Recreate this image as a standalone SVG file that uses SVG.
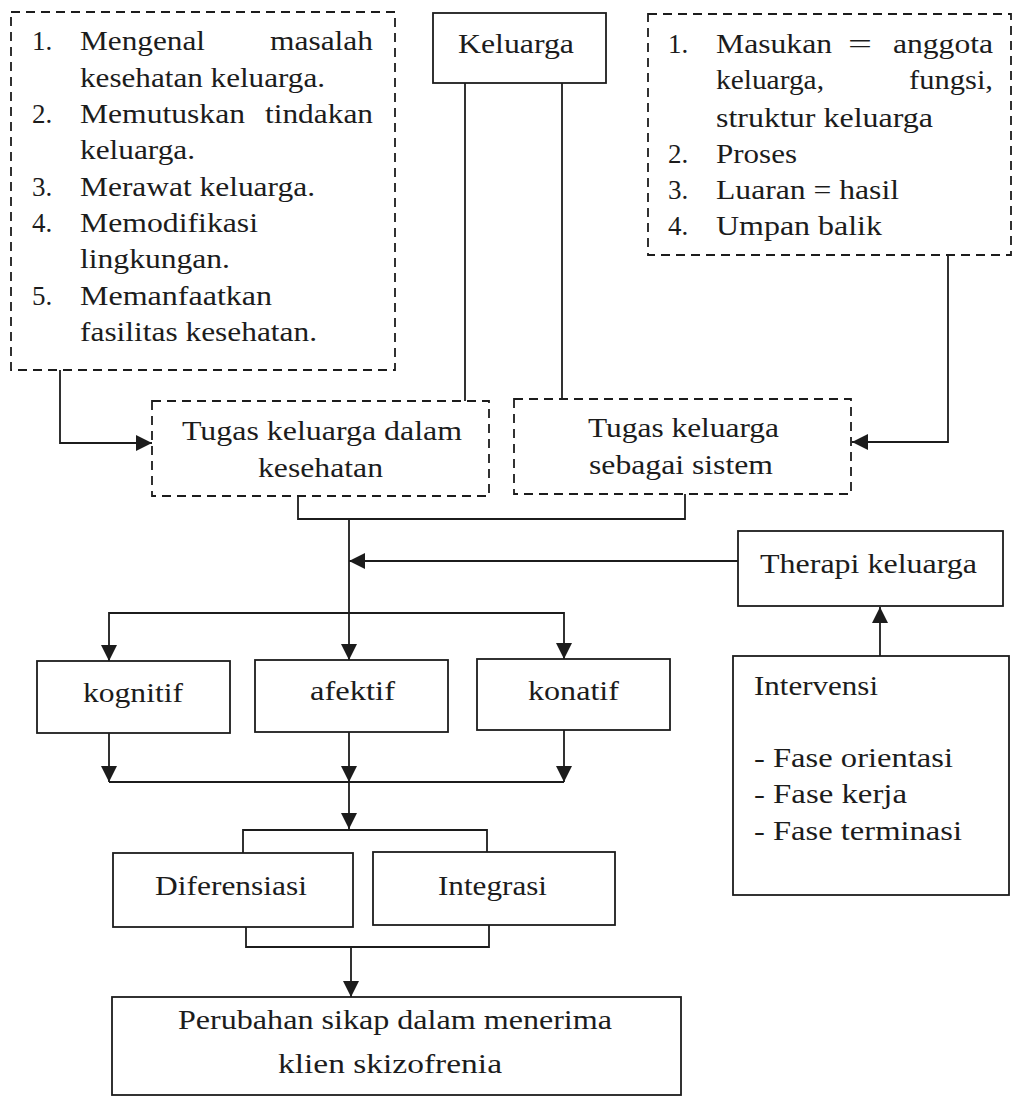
<svg xmlns="http://www.w3.org/2000/svg" width="1014" height="1097" viewBox="0 0 1014 1097">
<style>
  text { font-family: "Times New Roman", Times, "Liberation Serif", "Nimbus Roman", "Nimbus Roman No9 L", Tinos, FreeSerif, serif; font-size: 27px; fill: #1c1c1c; }
  .box { fill: #fff; stroke: #1c1c1c; stroke-width: 1.8; }
  .dbox { fill: #fff; stroke: #1c1c1c; stroke-width: 1.8; stroke-dasharray: 9 6; }
  .ln { fill: none; stroke: #1c1c1c; stroke-width: 1.8; }
  .arr { fill: none; stroke: #1c1c1c; stroke-width: 1.8; marker-end: url(#ah); }
</style>
<defs>
  <marker id="ah" viewBox="0 0 10 10" refX="10" refY="5" markerWidth="17" markerHeight="16" markerUnits="userSpaceOnUse" orient="auto">
    <path d="M0,0 L10,5 L0,10 z" fill="#1c1c1c"/>
  </marker>
</defs>
<rect width="1014" height="1097" fill="#fff"/>

<g id="connectors">
  <path class="arr" d="M60,370 V443 H152"/>
  <path class="ln" d="M465,83 V401"/>
  <path class="ln" d="M562,83 V399"/>
  <path class="arr" d="M948,255 V442 H852"/>
  <path class="ln" d="M298,496 V519 H685 V494"/>
  <path class="arr" d="M349,519 V660"/>
  <path class="arr" d="M738,561 H349"/>
  <path class="arr" d="M349,613 H109 V661"/>
  <path class="arr" d="M349,613 H564 V659"/>
  <path class="arr" d="M880,656 V607"/>
  <path class="arr" d="M109,733 V782"/>
  <path class="arr" d="M349,732 V782"/>
  <path class="arr" d="M564,730 V782"/>
  <path class="ln" d="M109,782 H564"/>
  <path class="arr" d="M349,782 V829"/>
  <path class="ln" d="M243,853 V830 H487 V852"/>
  <path class="ln" d="M246,927 V947 H489 V925"/>
  <path class="arr" d="M351,947 V997"/>
</g>

<g id="tugas-list">
  <rect class="dbox" x="11" y="12" width="384" height="358"/>
  <text x="32" y="50">1.</text>
  <text x="80" y="50" textLength="125" lengthAdjust="spacingAndGlyphs">Mengenal</text>
  <text x="270" y="50" textLength="103" lengthAdjust="spacingAndGlyphs">masalah</text>
  <text x="80" y="87" textLength="245" lengthAdjust="spacingAndGlyphs">kesehatan keluarga.</text>
  <text x="32" y="123">2.</text>
  <text x="80" y="123" textLength="165" lengthAdjust="spacingAndGlyphs">Memutuskan</text>
  <text x="265" y="123" textLength="108" lengthAdjust="spacingAndGlyphs">tindakan</text>
  <text x="80" y="159" textLength="115" lengthAdjust="spacingAndGlyphs">keluarga.</text>
  <text x="32" y="196">3.</text>
  <text x="80" y="196" textLength="235" lengthAdjust="spacingAndGlyphs">Merawat keluarga.</text>
  <text x="32" y="232">4.</text>
  <text x="80" y="232" textLength="178" lengthAdjust="spacingAndGlyphs">Memodifikasi</text>
  <text x="80" y="268" textLength="150" lengthAdjust="spacingAndGlyphs">lingkungan.</text>
  <text x="32" y="305">5.</text>
  <text x="80" y="305" textLength="192" lengthAdjust="spacingAndGlyphs">Memanfaatkan</text>
  <text x="80" y="341" textLength="237" lengthAdjust="spacingAndGlyphs">fasilitas kesehatan.</text>
</g>

<g id="keluarga">
  <rect class="box" x="433" y="13" width="173" height="70"/>
  <text x="458" y="53" textLength="116" lengthAdjust="spacingAndGlyphs">Keluarga</text>
</g>

<g id="sistem-list">
  <rect class="dbox" x="648" y="14" width="363" height="241"/>
  <text x="668" y="53">1.</text>
  <text x="716" y="53" textLength="116" lengthAdjust="spacingAndGlyphs">Masukan</text>
  <text x="848" y="53" textLength="24" lengthAdjust="spacingAndGlyphs">=</text>
  <text x="893" y="53" textLength="100" lengthAdjust="spacingAndGlyphs">anggota</text>
  <text x="716" y="89" textLength="108" lengthAdjust="spacingAndGlyphs">keluarga,</text>
  <text x="909" y="89" textLength="84" lengthAdjust="spacingAndGlyphs">fungsi,</text>
  <text x="716" y="127" textLength="217" lengthAdjust="spacingAndGlyphs">struktur keluarga</text>
  <text x="668" y="163">2.</text>
  <text x="716" y="163" textLength="81" lengthAdjust="spacingAndGlyphs">Proses</text>
  <text x="668" y="199">3.</text>
  <text x="716" y="199" textLength="183" lengthAdjust="spacingAndGlyphs">Luaran = hasil</text>
  <text x="668" y="235">4.</text>
  <text x="716" y="235" textLength="166" lengthAdjust="spacingAndGlyphs">Umpan balik</text>
</g>

<g id="tugas-kesehatan">
  <rect class="dbox" x="152" y="401" width="337" height="95"/>
  <text x="182" y="440" textLength="280" lengthAdjust="spacingAndGlyphs">Tugas keluarga dalam</text>
  <text x="258" y="477" textLength="125" lengthAdjust="spacingAndGlyphs">kesehatan</text>
</g>

<g id="tugas-sistem">
  <rect class="dbox" x="514" y="399" width="337" height="95"/>
  <text x="588" y="437" textLength="191" lengthAdjust="spacingAndGlyphs">Tugas keluarga</text>
  <text x="589" y="474" textLength="184" lengthAdjust="spacingAndGlyphs">sebagai sistem</text>
</g>

<g id="therapi">
  <rect class="box" x="738" y="531" width="265" height="75"/>
  <text x="760" y="573" textLength="217" lengthAdjust="spacingAndGlyphs">Therapi keluarga</text>
</g>

<g id="kognitif">
  <rect class="box" x="37" y="661" width="193" height="72"/>
  <text x="83" y="702" textLength="100" lengthAdjust="spacingAndGlyphs">kognitif</text>
</g>

<g id="afektif">
  <rect class="box" x="255" y="660" width="193" height="72"/>
  <text x="310" y="700" textLength="85" lengthAdjust="spacingAndGlyphs">afektif</text>
</g>

<g id="konatif">
  <rect class="box" x="477" y="659" width="193" height="71"/>
  <text x="528" y="700" textLength="91" lengthAdjust="spacingAndGlyphs">konatif</text>
</g>

<g id="intervensi">
  <rect class="box" x="733" y="656" width="276" height="239"/>
  <text x="754" y="695" textLength="124" lengthAdjust="spacingAndGlyphs">Intervensi</text>
  <text x="754" y="767" textLength="199" lengthAdjust="spacingAndGlyphs">- Fase orientasi</text>
  <text x="754" y="803" textLength="153" lengthAdjust="spacingAndGlyphs">- Fase kerja</text>
  <text x="754" y="840" textLength="208" lengthAdjust="spacingAndGlyphs">- Fase terminasi</text>
</g>

<g id="diferensiasi">
  <rect class="box" x="113" y="853" width="240" height="74"/>
  <text x="155" y="895" textLength="152" lengthAdjust="spacingAndGlyphs">Diferensiasi</text>
</g>

<g id="integrasi">
  <rect class="box" x="373" y="852" width="242" height="73"/>
  <text x="438" y="895" textLength="109" lengthAdjust="spacingAndGlyphs">Integrasi</text>
</g>

<g id="perubahan">
  <rect class="box" x="112" y="997" width="569" height="98"/>
  <text x="178" y="1029" textLength="434" lengthAdjust="spacingAndGlyphs">Perubahan sikap dalam menerima</text>
  <text x="278" y="1073" textLength="224" lengthAdjust="spacingAndGlyphs">klien skizofrenia</text>
</g>
</svg>
